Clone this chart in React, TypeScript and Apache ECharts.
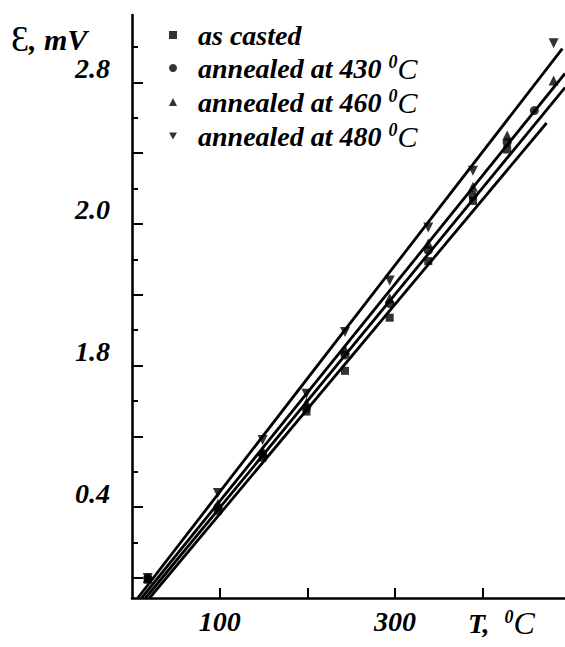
import React, { useEffect, useRef } from 'react';
import * as echarts from 'echarts';

// ---- data ----
const SERIES_NAMES = ['as casted', 'annealed at 430', 'annealed at 460', 'annealed at 480'];

const TEMPS_CAST = [18, 98, 149, 199, 243, 294, 338, 389, 428];
const EMF_CAST = [-0.01, 0.38, 0.68, 0.94, 1.17, 1.47, 1.79, 2.13, 2.42];

const TEMPS_430 = [18, 98, 149, 199, 243, 294, 338, 389, 428, 459];
const EMF_430 = [0.0, 0.4, 0.7, 0.96, 1.26, 1.55, 1.85, 2.16, 2.46, 2.64];

const TEMPS_460 = [18, 98, 149, 199, 243, 294, 338, 389, 428, 481];
const EMF_460 = [0.0, 0.42, 0.72, 0.99, 1.29, 1.58, 1.89, 2.21, 2.5, 2.81];

const TEMPS_480 = [18, 98, 149, 199, 243, 294, 338, 389, 481];
const EMF_480 = [0.0, 0.48, 0.78, 1.04, 1.39, 1.68, 1.98, 2.3, 3.02];

// fitted straight lines (end points)
const FIT_T_CAST = [20, 473];
const FIT_E_CAST = [-0.113, 2.57];
const FIT_T_430 = [15.5, 494];
const FIT_E_430 = [-0.113, 2.77];
const FIT_T_460 = [11, 494];
const FIT_E_460 = [-0.113, 2.85];
const FIT_T_480 = [6.6, 491];
const FIT_E_480 = [-0.113, 2.99];

// axes
const X_TICKS = [100, 200, 300, 400];
const X_LABELS = [100, 300];
const Y_MAJOR_TICKS = [0, 0.4, 0.8, 1.2, 1.6, 2.0, 2.4, 2.8];
const Y_MINOR_TICKS = [0.2, 0.6, 1.0, 1.4, 1.8, 2.2, 2.6, 3.0];
const Y_LABEL_VALUES = [0.4, 1.2, 2.0, 2.8];
const Y_LABEL_TEXTS = ['0.4', '1.8', '2.0', '2.8'];

const FONT = 'Liberation Serif, Times New Roman, serif';
const DOWN_TRI = 'path://M0,0L10,0L5,9Z';
const SYMBOLS = ['rect', 'circle', 'triangle', DOWN_TRI];
const SIZES = [8, 9, 10, 10];

const zip = (a: number[], b: number[]) => a.map((v, i) => [v, b[i]]);

export default function App() {
  const ref = useRef<HTMLDivElement>(null);
  useEffect(() => {
    if (!ref.current) return;
    const chart = echarts.init(ref.current, undefined, { renderer: 'svg' });
    const pts = [
      zip(TEMPS_CAST, EMF_CAST),
      zip(TEMPS_430, EMF_430),
      zip(TEMPS_460, EMF_460),
      zip(TEMPS_480, EMF_480),
    ];
    const fits = [
      zip(FIT_T_CAST, FIT_E_CAST),
      zip(FIT_T_430, FIT_E_430),
      zip(FIT_T_460, FIT_E_460),
      zip(FIT_T_480, FIT_E_480),
    ];
    const txt = { fontFamily: FONT, fontStyle: 'italic' as const, fontWeight: 'bold' as const, color: '#000' };
    const series: any[] = [];
    fits.forEach((d) => {
      series.push({
        type: 'line',
        data: d,
        showSymbol: false,
        symbol: 'none',
        lineStyle: { color: '#000', width: 2.8 },
        silent: true,
        z: 2,
      });
    });
    pts.forEach((d, i) => {
      series.push({
        type: 'scatter',
        name: SERIES_NAMES[i],
        data: d,
        symbol: SYMBOLS[i],
        symbolSize: SIZES[i],
        itemStyle: { color: '#000' },
        z: 3,
      });
    });
    chart.setOption({
      animation: false,
      backgroundColor: '#fff',
      grid: { left: 132, right: 0, top: 15, bottom: 49 },
      xAxis: {
        type: 'value',
        min: 0,
        max: 494,
        splitLine: { show: false },
        axisLine: { show: true, onZero: false, lineStyle: { color: '#000', width: 2.6 } },
        axisTick: { show: true, inside: true, length: 10, customValues: X_TICKS, lineStyle: { color: '#000', width: 2 } },
        axisLabel: { customValues: X_LABELS, margin: 9, fontSize: 28, ...txt },
      },
      yAxis: [
        {
          type: 'value',
          min: -0.113,
          max: 3.18,
          splitLine: { show: false },
          axisLine: { show: true, onZero: false, lineStyle: { color: '#000', width: 2.6 } },
          axisTick: { show: true, inside: true, length: 11, customValues: Y_MAJOR_TICKS, lineStyle: { color: '#000', width: 2 } },
          axisLabel: {
            customValues: Y_LABEL_VALUES,
            formatter: (v: number) => {
              const k = Y_LABEL_VALUES.findIndex((x) => Math.abs(x - v) < 1e-6);
              return k >= 0 ? Y_LABEL_TEXTS[k] : '';
            },
            margin: 22,
            fontSize: 28,
            verticalAlign: 'bottom',
            lineHeight: 28,
            ...txt,
          },
        },
        {
          type: 'value',
          min: -0.113,
          max: 3.18,
          position: 'left',
          splitLine: { show: false },
          axisLine: { show: false },
          axisTick: { show: true, inside: true, length: 6, customValues: Y_MINOR_TICKS, lineStyle: { color: '#000', width: 2 } },
          axisLabel: { show: false },
        },
      ],
      legend: {
        orient: 'vertical',
        left: 164,
        top: 16,
        itemGap: 4,
        itemWidth: 8,
        itemHeight: 8,
        data: SERIES_NAMES.map((n, i) => ({ name: n, icon: SYMBOLS[i] })),
        formatter: (name: string) => (name === 'as casted' ? `{t|${name}}` : `{t|${name} }{s|0}{c|C}`),
        textStyle: {
          ...txt,
          fontSize: 28,
          rich: {
            t: { ...txt, fontSize: 28, lineHeight: 30, padding: [0, 0, 0, 16] },
            s: { ...txt, fontSize: 18, lineHeight: 18, verticalAlign: 'top' },
            c: { fontFamily: FONT, fontStyle: 'italic', fontWeight: 'normal', fontSize: 30, lineHeight: 30, color: '#000' },
          },
        },
      },
      graphic: [
        {
          type: 'text',
          left: 11,
          top: 21,
          style: {
            text: '{e|Ɛ}{t|, mV}',
            rich: {
              e: { fontFamily: FONT, fontSize: 36, fontWeight: 'normal', color: '#000', lineHeight: 34 },
              t: { ...txt, fontSize: 30, lineHeight: 34 },
            },
          },
        },
        {
          type: 'text',
          left: 468,
          top: 607,
          style: {
            text: '{t|T, }{s|0}{c|C}',
            rich: {
              t: { ...txt, fontSize: 28, lineHeight: 30 },
              s: { ...txt, fontSize: 18, lineHeight: 18, verticalAlign: 'top', padding: [0, 0, 0, 8] },
              c: { fontFamily: FONT, fontStyle: 'italic', fontWeight: 'normal', fontSize: 32, lineHeight: 30, color: '#000' },
            },
          },
        },
      ],
      series,
    });
    return () => chart.dispose();
  }, []);
  return <div ref={ref} style={{ position: 'fixed', left: 0, top: 0, width: 565, height: 647, background: '#fff' }} />;
}
